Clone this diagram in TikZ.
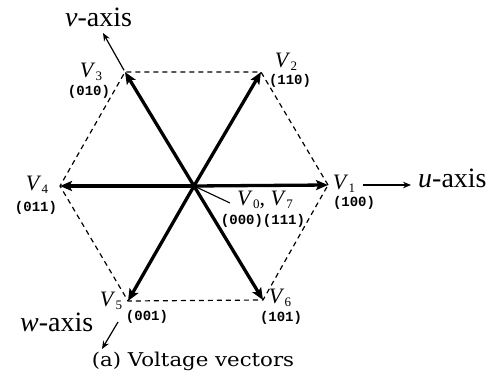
\documentclass[tikz,border=0pt]{standalone}
\usepackage{fontspec}
\setmainfont{Liberation Serif}
\newfontfamily\digitfont{Liberation Mono}
\newfontfamily\capfont{DejaVu Serif}
\usetikzlibrary{arrows.meta}
\newcommand\myV[1]{\textit{V}\kern0.3pt\raisebox{-3pt}{\fontsize{13}{13}\selectfont #1}}
\begin{document}
\begin{tikzpicture}[x=1pt,y=-1pt,
  vec/.style={line width=3.3pt,-{Stealth[length=12pt,width=10pt,inset=2.5pt]}},
  hexedge/.style={line width=1.2pt,dash pattern=on 5pt off 4pt},
  axisarrow/.style={line width=1.2pt,-{Stealth[length=8pt,width=6.5pt]}},
  pointer/.style={line width=1.1pt},
  vlabel/.style={font=\fontsize{22}{24}\selectfont,inner sep=0pt},
  codelabel/.style={font=\digitfont\bfseries\fontsize{14}{16}\selectfont,inner sep=0pt},
  axislabel/.style={font=\fontsize{28}{30}\selectfont,inner sep=0pt,anchor=base west},
  caplabel/.style={font=\capfont\fontsize{19}{21}\selectfont,inner sep=0pt,anchor=base}]
\useasboundingbox (0,0) rectangle (495,379);
% vertices
\coordinate (O)  at (194,186);
\coordinate (P1) at (328,185);
\coordinate (P2) at (261,72);
\coordinate (P3) at (125,72);
\coordinate (P4) at (60,186);
\coordinate (P5) at (128,301);
\coordinate (P6) at (263,300);
% dashed hexagon
\draw[hexedge] (P1) -- (P2) -- (P3) -- (P4) -- (P5) -- (P6) -- cycle;
% vectors
\foreach \p in {P1,P2,P3,P4,P5,P6} \draw[vec] (O) -- (\p);
% labels
\node[vlabel] (L1) at (344,184) {\myV{1}};
\node[codelabel] (C1) at (354,203) {(100)};
\node[vlabel] (L2) at (286,62) {\myV{2}};
\node[codelabel] (C2) at (290,81) {(110)};
\node[vlabel] (L3) at (91,72) {\myV{3}};
\node[codelabel] (C3) at (89,92) {(010)};
\node[vlabel] (L4) at (37,185) {\myV{4}};
\node[codelabel] (C4) at (36,208) {(011)};
\node[vlabel] (L5) at (111,301) {\myV{5}};
\node[codelabel] (C5) at (147,317) {(001)};
\node[vlabel] (L6) at (280,298) {\myV{6}};
\node[codelabel] (C6) at (281,318) {(101)};
\node[vlabel] (L0) at (265,200) {\myV{0}, \myV{7}};
\node[codelabel] (C0) at (263,221) {(000)(111)};
% pointer to V0,V7
\coordinate (ptr) at (230,203);
\draw[pointer] (O) -- (ptr);
% axes
\node[axislabel] (uax) at (418,188) {\textit{u}-axis};
\node[axislabel] (vax) at (65,27) {\textit{v}-axis};
\node[axislabel] (wax) at (20,331) {\textit{w}-axis};
\coordinate (ua) at (363,185);
\coordinate (ub) at (411,185);
\draw[axisarrow] (ua) -- (ub);
\coordinate (vb) at (103,33);
\draw[axisarrow,shorten <=2pt] (P3) -- (vb);
\coordinate (wa) at (118,322);
\coordinate (wb) at (102,349);
\draw[axisarrow] (wa) -- (wb);
% caption
\node[caplabel] (cap) at (193,366) {\scalebox{1.12}[1]{(a) Voltage vectors}};
\end{tikzpicture}
\end{document}
